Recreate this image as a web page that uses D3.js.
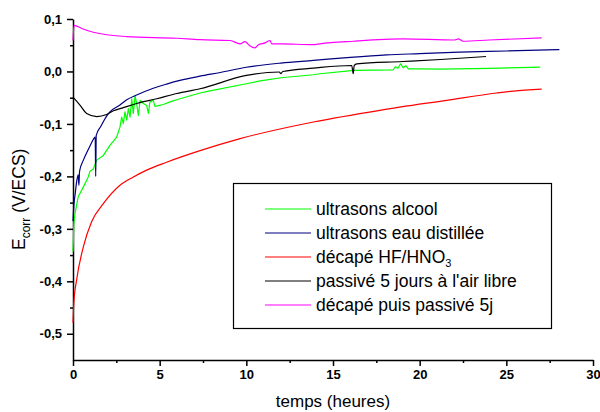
<!DOCTYPE html>
<html>
<head>
<meta charset="utf-8">
<script src="https://cdn.jsdelivr.net/npm/d3@7"></script>
<style>
  body { margin: 0; background: #fff; }
  svg { font-family: "Liberation Sans", Arial, sans-serif; }
</style>
</head>
<body>
<div id="chart"></div>
<script>
// values: [temps (h), Ecorr (V/ECS)]
var ultrasonsAlcool = [
  [0, -0.343], [0.05, -0.29], [0.12, -0.27], [0.3, -0.239], [0.6, -0.22], [0.88, -0.201],
  [0.98, -0.19], [1.17, -0.186], [1.37, -0.169], [1.75, -0.16], [2.13, -0.141], [2.52, -0.125],
  [2.71, -0.106], [2.81, -0.087], [2.9, -0.0995], [3.0, -0.077], [3.1, -0.093], [3.19, -0.071],
  [3.29, -0.087], [3.39, -0.052], [3.48, -0.08], [3.58, -0.046], [3.67, -0.061], [3.77, -0.084],
  [3.87, -0.055], [4.06, -0.061], [4.25, -0.065], [4.35, -0.08], [4.44, -0.058], [4.63, -0.055],
  [4.73, -0.0665], [4.92, -0.065], [5.21, -0.063], [5.6, -0.058], [5.98, -0.054], [6.17, -0.052],
  [7.33, -0.041], [7.9, -0.037], [10, -0.0234], [10.8, -0.018], [12, -0.012], [13.87, -0.0063],
  [14.25, -0.0044], [16.2, 0.0019], [18.48, 0.0032], [18.6, 0.009], [18.75, 0.006], [18.9, 0.0146],
  [19.05, 0.007], [19.2, 0.011], [19.35, 0.005], [20, 0.005], [21.2, 0.0045], [24, 0.006], [26.95, 0.0082]
];
var ultrasonsEau = [
  [0, -0.285], [0.05, -0.255], [0.12, -0.235], [0.22, -0.208], [0.3, -0.197], [0.34, -0.217],
  [0.38, -0.19], [0.6, -0.169], [0.79, -0.155], [0.98, -0.142], [1.2, -0.128], [1.28, -0.125],
  [1.31, -0.2], [1.34, -0.122], [1.6, -0.105], [1.94, -0.085], [2.13, -0.077], [2.71, -0.064],
  [3.1, -0.054], [3.67, -0.045], [4.63, -0.032], [5.4, -0.024], [6.17, -0.017], [7.33, -0.009],
  [8.5, -0.002], [10, 0.008], [12, 0.016], [13.87, 0.021], [16, 0.027], [18.1, 0.0317],
  [20, 0.034], [22.3, 0.0367], [25, 0.039], [28.06, 0.0418]
];
var decape = [
  [0, -0.479], [0.05, -0.44], [0.21, -0.397], [0.6, -0.334], [1.08, -0.286], [1.75, -0.252],
  [2.71, -0.217], [3.46, -0.2015], [4.25, -0.188], [5.4, -0.173], [7.33, -0.151], [9.64, -0.128],
  [13.87, -0.0963], [17.7, -0.074], [21.56, -0.055], [24.45, -0.041], [25.4, -0.0374], [27.04, -0.0336]
];
var passive5j = [
  [0, -0.049], [0.4, -0.064], [0.79, -0.08], [1.37, -0.086], [1.94, -0.082], [2.33, -0.075],
  [2.9, -0.069], [3.67, -0.061], [4.83, -0.052], [5.98, -0.042], [7.33, -0.033], [10, -0.0076],
  [11.9, -0.001], [12, -0.004], [12.1, 0.000], [13.87, 0.0063], [16.08, 0.0114], [16.17, -0.0044],
  [16.22, 0.011], [16.37, 0.0146], [19, 0.019], [21.2, 0.0228], [23.83, 0.0285]
];
var decapePassive = [
  [0, 0.059], [0.06, 0.088], [0.5, 0.082], [1.17, 0.0747], [3.1, 0.0665], [5.98, 0.0633],
  [7.33, 0.0605], [9.06, 0.059], [9.64, 0.0527], [9.92, 0.057], [10.2, 0.049], [10.5, 0.045],
  [10.7, 0.051], [11.08, 0.0545], [11.37, 0.059], [11.46, 0.0527], [11.95, 0.0527], [13.87, 0.051],
  [14.25, 0.0527], [16.17, 0.0576], [19.06, 0.062], [22.0, 0.060], [22.24, 0.062], [22.5, 0.0576],
  [24, 0.060], [27.04, 0.064]
];

var seriesNames = ["ultrasons alcool", "ultrasons eau distillée", "décapé HF/HNO", "passivé 5 jours à l'air libre", "décapé puis passivé 5j"];
var seriesData = [ultrasonsAlcool, ultrasonsEau, decape, passive5j, decapePassive];
var seriesColors = ["#00ff00", "#000080", "#ff0000", "#000000", "#ff00ff"];

var xTicks = [0, 5, 10, 15, 20, 25, 30];
var yTicks = [-0.5, -0.4, -0.3, -0.2, -0.1, 0.0, 0.1];

var width = 600, height = 412;

var svg = d3.select("#chart").append("svg")
  .attr("width", width)
  .attr("height", height);

var x = d3.scaleLinear().domain([0, 30]).range([73, 593]);
var y = d3.scaleLinear().domain([-0.55, 0.1]).range([360, 19]);

var fmt = function(d) { return d3.format(".1f")(d).replace(".", ",").replace("−", "-"); };

// minor ticks first, then main axes on top
var xMinor = d3.axisBottom(x).tickValues(d3.range(2.5, 30, 5)).tickSize(3).tickFormat("");
var yMinor = d3.axisLeft(y).tickValues(d3.range(-0.45, 0.1, 0.1)).tickSize(3).tickFormat("");

svg.append("g").attr("transform", "translate(0,360)").call(xMinor)
  .call(function(g) { g.select(".domain").remove(); })
  .selectAll("line").attr("stroke-width", 1.5);
svg.append("g").attr("transform", "translate(73,0)").call(yMinor)
  .call(function(g) { g.select(".domain").remove(); })
  .selectAll("line").attr("stroke-width", 1.5);

var xAxis = svg.append("g").attr("transform", "translate(0,360)")
  .call(d3.axisBottom(x).tickValues(xTicks).tickSize(6).tickSizeOuter(0).tickPadding(4).tickFormat(d3.format("d")));
var yAxis = svg.append("g").attr("transform", "translate(73,0)")
  .call(d3.axisLeft(y).tickValues(yTicks).tickSize(6).tickSizeOuter(0).tickPadding(5).tickFormat(fmt));

[xAxis, yAxis].forEach(function(g) {
  g.select(".domain").attr("stroke-width", 1.5);
  g.selectAll(".tick line").attr("stroke-width", 1.5);
  g.selectAll("text")
    .attr("font-family", "'Liberation Sans', Arial, sans-serif")
    .attr("font-weight", "bold")
    .attr("fill", "#000");
});
xAxis.selectAll("text").attr("font-size", 13);
yAxis.selectAll("text").attr("font-size", 13);

// curves
var line = d3.line()
  .x(function(d) { return x(d[0]); })
  .y(function(d) { return y(d[1]); });

seriesData.forEach(function(data, i) {
  svg.append("path")
    .datum(data)
    .attr("fill", "none")
    .attr("stroke", seriesColors[i])
    .attr("stroke-width", 1.2)
    .attr("stroke-linejoin", "round")
    .attr("d", line.curve(i == 0 ? d3.curveLinear : d3.curveMonotoneX));
});

// axis titles
svg.append("text")
  .attr("x", 333).attr("y", 407)
  .attr("text-anchor", "middle")
  .attr("font-size", 17)
  .text("temps (heures)");

var yTitle = svg.append("text")
  .attr("transform", "translate(25,250) rotate(-90)")
  .attr("font-size", 17.5);
yTitle.append("tspan").text("E");
yTitle.append("tspan").attr("font-size", 12).attr("dy", 5).text("corr");
yTitle.append("tspan").attr("dy", -5).text(" (V/ECS)");

// legend
var legend = svg.append("g");
legend.append("rect")
  .attr("x", 233.5).attr("y", 183.5)
  .attr("width", 318).attr("height", 145)
  .attr("fill", "#fff")
  .attr("stroke", "#000")
  .attr("stroke-width", 1.2);

seriesNames.forEach(function(name, i) {
  var yy = 209 + i * 24;
  legend.append("line")
    .attr("x1", 265).attr("x2", 311)
    .attr("y1", yy).attr("y2", yy)
    .attr("stroke", seriesColors[i])
    .attr("stroke-width", 1.2);
  var t = legend.append("text")
    .attr("x", 316).attr("y", yy + 6)
    .attr("font-size", 17.5)
    .text(name);
  if (i == 2) {
    t.append("tspan").attr("font-size", 11).attr("dy", 4).text("3");
  }
});
</script>
</body>
</html>
